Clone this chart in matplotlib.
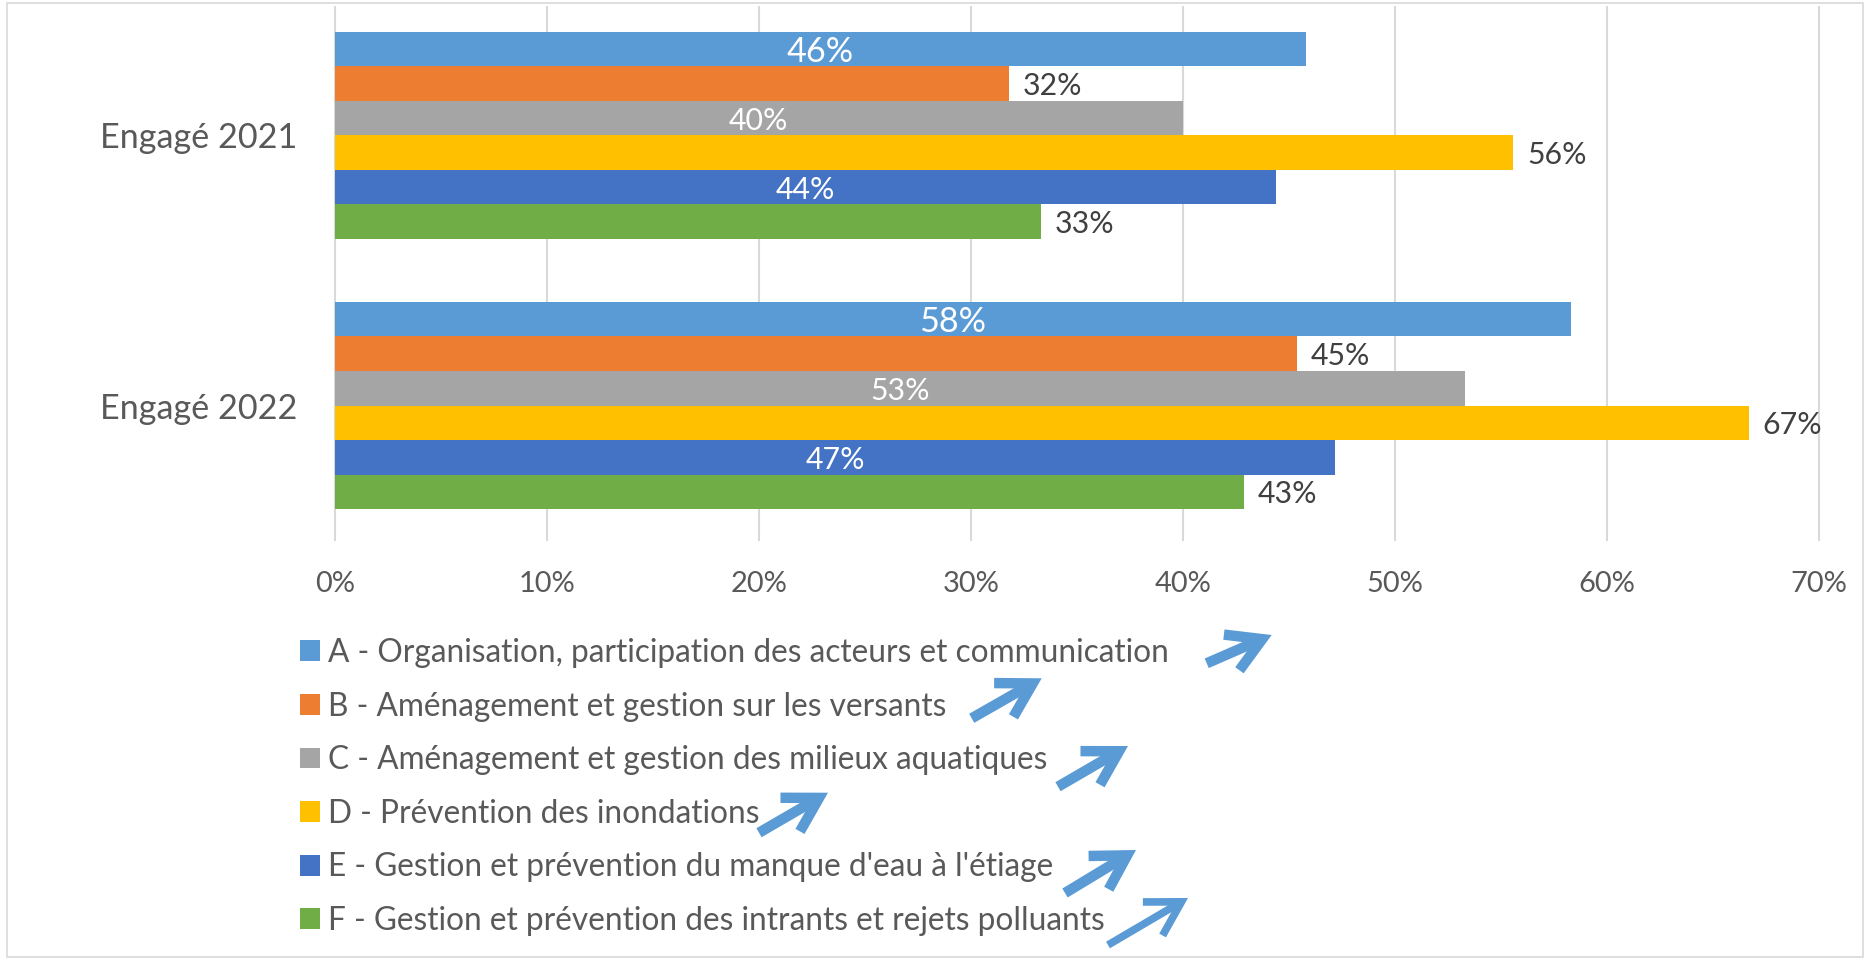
import matplotlib
matplotlib.use("Agg")
import matplotlib.pyplot as plt
from matplotlib.patches import FancyArrowPatch, Rectangle, ArrowStyle
from matplotlib.ticker import PercentFormatter, MultipleLocator
import numpy as np

# ---------------- data ----------------
categories = ["Engagé 2021", "Engagé 2022"]
series_names = [
    "A - Organisation, participation des acteurs et communication",
    "B - Aménagement et gestion sur les versants",
    "C - Aménagement et gestion des milieux aquatiques",
    "D - Prévention des inondations",
    "E - Gestion et prévention du manque d'eau à l'étiage",
    "F - Gestion et prévention des intrants et rejets polluants",
]
A_vals = [0.458, 0.583]
B_vals = [0.318, 0.454]
C_vals = [0.400, 0.533]
D_vals = [0.556, 0.667]
E_vals = [0.444, 0.472]
F_vals = [0.333, 0.429]
series_values = [A_vals, B_vals, C_vals, D_vals, E_vals, F_vals]
colors = ["#5B9BD5", "#ED7D31", "#A5A5A5", "#FFC000", "#4472C4", "#70AD47"]
label_inside = [True, False, True, False, True, False]
x_max = 0.7

# ---------------- layout ----------------
W, H = 1870, 960
FAM = ["Lato", "DejaVu Sans"]
TXT = "#595959"
plt.rcParams["font.family"] = FAM

fig = plt.figure(figsize=(W / 100, H / 100), dpi=100)
renderer = fig.canvas.get_renderer()


def fit(text, target_px, base=20):
    t = fig.text(0, 0, text, fontsize=base)
    w = t.get_window_extent(renderer=renderer).width
    t.remove()
    return base * target_px / w


fs_cat = fit("Engagé 2021", 197)
fs_leg = fit(series_names[0], 843)
fs_tick = fit("10%", 57)
fs_lab = fit("32%", 59)
fs_labA = fit("46%", 67)

ax = fig.add_axes([335 / W, 1 - 540 / H, (1818.5 - 335) / W, (540 - 7) / H])

n = len(series_values)
bh = 34.55 / 270.3
ypos = np.arange(len(categories))
for i, (vals, col, name) in enumerate(zip(series_values, colors, series_names)):
    yy = ypos + (i - (n - 1) / 2) * bh
    ax.barh(yy, vals, height=bh, color=col, label=name, zorder=2)
    for y1, v in zip(yy, vals):
        if label_inside[i]:
            ax.text(v / 2, y1, f"{v:.0%}", ha="center", va="center_baseline",
                    color="white", fontsize=fs_labA if i == 0 else fs_lab, zorder=3)
        else:
            ax.annotate(f"{v:.0%}", xy=(v, y1), xytext=(10, 0), textcoords="offset points",
                        ha="left", va="center_baseline", color="#404040",
                        fontsize=fs_lab, zorder=3, annotation_clip=False)

ax.set_xlim(0, x_max)
ax.set_ylim(1.4973, -0.4747)
ax.xaxis.set_major_locator(MultipleLocator(0.1))
ax.xaxis.set_major_formatter(PercentFormatter(1, decimals=0))
ax.set_yticks(ypos)
ax.set_yticklabels(categories)
ax.grid(axis="x", color="#D9D9D9", lw=1.5, zorder=0)
ax.set_axisbelow(True)
for s in ax.spines.values():
    s.set_visible(False)
ax.tick_params(axis="both", length=0)
ax.tick_params(axis="x", labelsize=fs_tick, labelcolor=TXT, pad=20)
ax.tick_params(axis="y", labelsize=fs_cat, labelcolor=TXT, pad=27)
for gl in ax.get_xgridlines():
    gl.set_clip_on(False)

# adjust x tick label pad so label centre lands at y=584 px
fig.canvas.draw()
bb = ax.get_xticklabels()[1].get_window_extent(renderer=renderer)
cy = (bb.y0 + bb.y1) / 2
target = H - 584
ax.tick_params(axis="x", pad=20 + (cy - target) * 0.72)


def make_legend(ls):
    fs_px = fs_leg * 100 / 72
    hl = 20 / fs_px
    return ax.legend(loc="center left", bbox_to_anchor=(300 / W, 1 - 787 / H),
                     bbox_transform=fig.transFigure, frameon=False,
                     prop={"size": fs_leg}, handlelength=hl, handleheight=hl,
                     handletextpad=8 / fs_px, labelspacing=ls, borderpad=0,
                     borderaxespad=0, labelcolor=TXT)


leg = make_legend(0.8)
fig.canvas.draw()
t0 = leg.get_texts()[0].get_window_extent(renderer=renderer)
t1 = leg.get_texts()[1].get_window_extent(renderer=renderer)
pitch = (t0.y0 + t0.y1) / 2 - (t1.y0 + t1.y1) / 2
fs_px = fs_leg * 100 / 72
leg.remove()
leg = make_legend(0.8 + (53.6 - pitch) / fs_px)

# chart-area border
fig.patches.append(Rectangle((7 / W, 3 / H), (1863 - 7) / W, (957 - 3) / H,
                             transform=fig.transFigure, fill=False,
                             ec="#D9D9D9", lw=1.2))

# decorative trend arrows (tail, tip) in pixel coordinates
trend_arrows = [((1206.7, 663.3), (1271.7, 635.0)),
                ((971.7, 718.3), (1041.7, 678.3)),
                ((1058.0, 786.7), (1128.0, 746.0)),
                ((759.0, 832.7), (828.0, 792.7)),
                ((1065.0, 893.0), (1136.0, 850.0)),
                ((1108.0, 945.0), (1188.0, 898.0))]
arrow_lw = [7.5, 7.5, 7.5, 7.5, 7.5, 5.5]
for (p0, p1), lw in zip(trend_arrows, arrow_lw):
    fa = FancyArrowPatch(posA=(p0[0] / W, 1 - p0[1] / H), posB=(p1[0] / W, 1 - p1[1] / H),
                         transform=fig.transFigure,
                         arrowstyle=ArrowStyle("->", head_length=24, head_width=14),
                         mutation_scale=1, lw=lw, color="#5B9BD5",
                         shrinkA=0, shrinkB=0, joinstyle="miter", capstyle="butt")
    fig.patches.append(fa)

fig.savefig("out.png", dpi=100, facecolor="white")
